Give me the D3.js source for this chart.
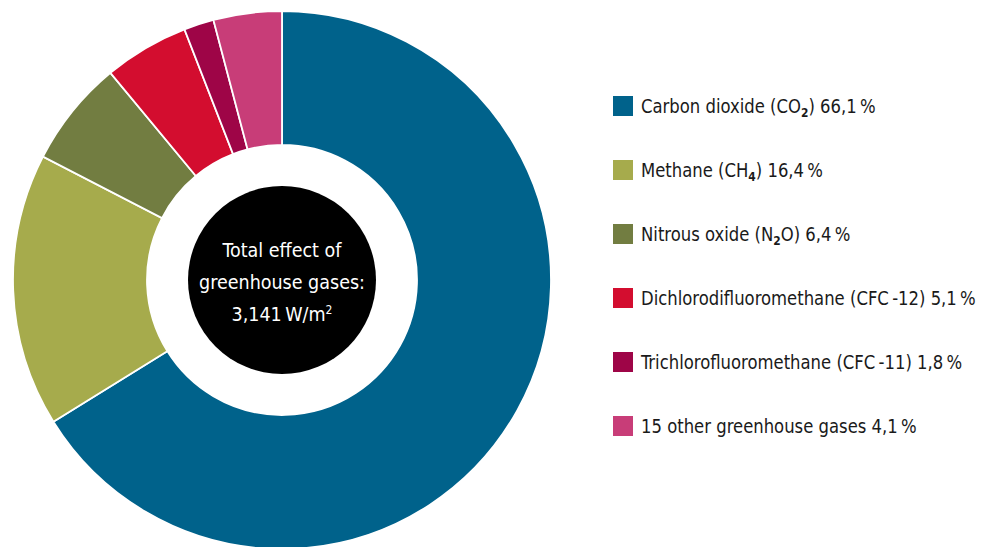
<!DOCTYPE html>
<html>
<head>
<meta charset="utf-8">
<script src="https://cdn.jsdelivr.net/npm/d3@7"></script>
<style>
  body { margin: 0; background: #fff; }
  text { font-family: "Liberation Sans Narrow", "DejaVu Sans Condensed", sans-serif; }
</style>
</head>
<body>
<script>
// gas name parts: [text before subscript, subscript, text after]
var gasNames = [
    ['Carbon dioxide (CO', '2', ')'],
    ['Methane (CH', '4', ')'],
    ['Nitrous oxide (N', '2', 'O)'],
    ['Dichlorodifluoromethane (CFC\u2009-12)', '', ''],
    ['Trichlorofluoromethane (CFC\u2009-11)', '', ''],
    ['15 other greenhouse gases', '', '']
];
var shares = [66.1, 16.4, 6.4, 5.1, 1.8, 4.1];
var colors = ['#00628b', '#a6ab4c', '#727d41', '#d30d2f', '#9e0547', '#c83d78'];
var centerLines = ['Total effect of', 'greenhouse gases:'];
var totalValue = '3,141';

var width = 994, height = 547;
var cx = 282, cy = 280;
var outerR = 269, innerR = 135, coreR = 94;

var svg = d3.select('body')
            .append('svg')
              .attr('width', width)
              .attr('height', height);

var pie = d3.pie().sort(null).value(function(d){ return d; });
var arc = d3.arc().innerRadius(innerR).outerRadius(outerR);

var donut = svg.append('g')
               .attr('transform', 'translate(' + cx + ',' + cy + ')');

donut.selectAll('path')
  .data(pie(shares))
  .enter()
  .append('path')
    .attr('d', arc)
    .attr('fill', function(d, i){ return colors[i]; })
    .attr('stroke', '#fff')
    .attr('stroke-width', 1.8);

// black center disc
donut.append('circle')
  .attr('r', coreR)
  .attr('fill', '#000');

var centerText = donut.append('g')
  .attr('fill', '#fff')
  .attr('font-size', 19.5)
  .attr('text-anchor', 'middle');

centerText.selectAll('text.line')
  .data(centerLines)
  .enter()
  .append('text')
    .attr('class', 'line')
    .attr('y', function(d, i){ return -23 + i * 32; })
    .text(function(d){ return d; });

var totalText = centerText.append('text').attr('y', 41);
totalText.append('tspan').text(totalValue + '\u2009W/m');
totalText.append('tspan')
  .attr('font-size', 12)
  .attr('dy', -7)
  .text('2');

// legend
var fmt = function(v){ return d3.format('.1f')(v).replace('.', ',') + '\u2009%'; };

var legend = svg.append('g')
  .attr('transform', 'translate(613, 96)');

var rows = legend.selectAll('g.row')
  .data(gasNames)
  .enter()
  .append('g')
    .attr('class', 'row')
    .attr('transform', function(d, i){ return 'translate(0,' + (i * 64) + ')'; });

rows.append('rect')
  .attr('width', 20)
  .attr('height', 20)
  .attr('fill', function(d, i){ return colors[i]; });

// condensed look: squeeze the text horizontally
var labels = rows.append('text')
  .attr('transform', 'translate(28,17) scale(0.915,1)')
  .attr('font-size', 20)
  .attr('fill', '#1a1a1a');

labels.append('tspan').text(function(d){ return d[0]; });
labels.filter(function(d){ return d[1] !== ''; })
  .append('tspan')
    .attr('font-size', 13)
    .attr('font-weight', 'bold')
    .attr('dy', 4)
    .text(function(d){ return d[1]; });
labels.append('tspan')
  .attr('dy', function(d){ return d[1] !== '' ? -4 : 0; })
  .text(function(d, i){ return d[2] + ' ' + fmt(shares[i]); });
</script>
</body>
</html>
